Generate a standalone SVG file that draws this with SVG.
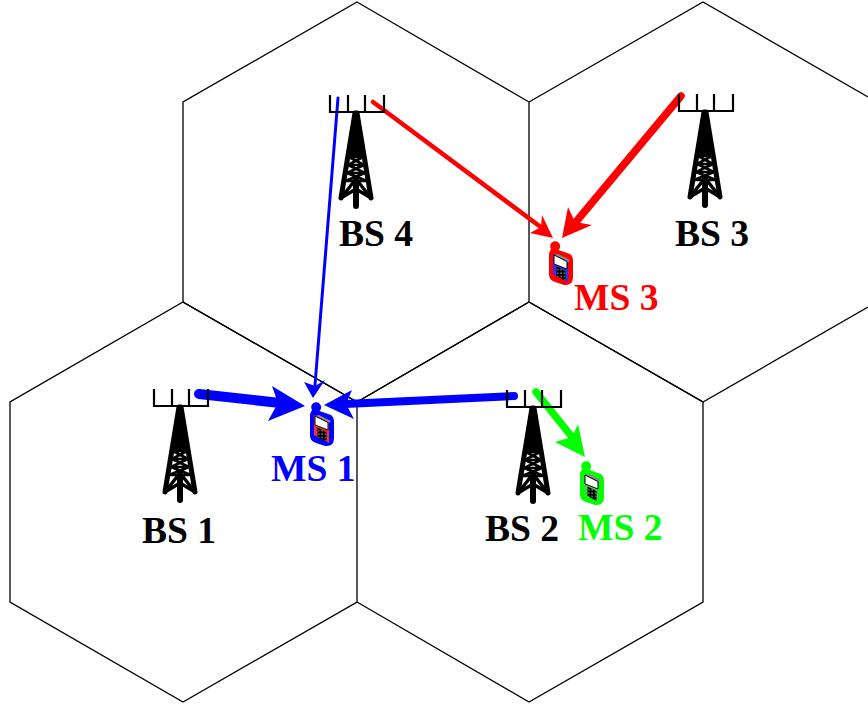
<svg xmlns="http://www.w3.org/2000/svg" width="868" height="706" viewBox="0 0 868 706">
<style>
.hex{fill:none;stroke:#000;stroke-width:1.3;stroke-linejoin:miter}
.lbl{font-family:"Liberation Serif","Times New Roman",serif;font-weight:bold;font-size:37.6px}
.shaft{fill:none;stroke-linecap:round}
.blue{stroke:#0000ff}.red{stroke:#ff0000}.green{stroke:#00ff00}
.fb{fill:#0000ff}.fr{fill:#ff0000}.fg{fill:#00ff00}
.case{stroke:none}
</style>
<defs>
<g id="tower">
<path d="M-26 -16V1H28V-16M-8 -16V1M9 -16V1" fill="none" stroke="#000" stroke-width="2.2"/>
<path d="M-2.5 0H2.5L7 46H-7Z" fill="#000"/>
<path d="M-1 2L-15 87M1 2L15 87" fill="none" stroke="#000" stroke-width="5" stroke-linecap="round"/>
<path d="M0 68V95" fill="none" stroke="#000" stroke-width="6" stroke-linecap="round"/>
<path d="M-15 87L0 68L15 87M-15 87L0 78L15 87" fill="none" stroke="#000" stroke-width="3.4"/>
<path d="M-7 46H7M-8 54H8M-9 62H9M-11 70H11M-7 46L8 54M7 46L-8 54M-8 54L9 62M8 54L-9 62M-9 62L11 70M9 62L-11 70" fill="none" stroke="#000" stroke-width="2.6"/>
</g>
<pattern id="keys" width="3.4" height="3.4" patternUnits="userSpaceOnUse"><rect width="3.4" height="3.4" fill="#000"/><rect x="1" y="1" width="1.5" height="1.5" fill="#777"/></pattern>
<path id="shell" d="M11 17L12 15A5 5 0 1 1 19.5 16L31 20Q34 22 34 27V43Q34 52 25 51L16 48Q10 46 10 41V21Q10 18 11 17Z"/>
<g id="face">
<path d="M15 21L19 20L31 26L28 29Z" fill="#888"/>
<path d="M15 21L28 27.5V35L15 30Z" fill="#fff" stroke="#000" stroke-width="1"/>
<path d="M17.5 32.5L26.5 37V47L17.5 42Z" fill="url(#keys)"/>
</g>
</defs>
<g id="cells">
<path class="hex" d="M357 2L529 102V302L357 402L183 302V102Z"/>
<path class="hex" d="M529 102L703 2L868 97M868 307L703 402L529 302"/>
<path class="hex" d="M183 302L357 402V602L183 702L10 602V402Z"/>
<path class="hex" d="M357 402L529 302L703 402V602L529 702L357 602"/>
</g>
<g id="connectors">
<path class="shaft blue" stroke-width="10" d="M199 394L280 403"/><polygon class="fb" points="305,406 272,386 278,403 268,421"/>
<path class="shaft blue" stroke-width="8" d="M514 396L345 404"/><polygon class="fb" points="324,405 352,390 346,404 354,419"/>
<path class="shaft blue" stroke-width="3" d="M338 98L315 385"/><polygon class="fb" points="313,398 304,382 315,386 325,380"/>
<path class="shaft red" stroke-width="4.5" d="M373 102L542 228"/><polygon class="fr" points="553,238 542,215 541,227 530,233"/>
<path class="shaft red" stroke-width="7.5" d="M681 96L575 223"/><polygon class="fr" points="562,238 568,207 575,222 592,225"/>
<path class="shaft green" stroke-width="7.5" d="M536 392L572 437"/><polygon class="fg" points="585,457 578,424 572,437 555,442"/>
</g>
<g id="BS1"><use href="#tower" x="180" y="405"/><text class="lbl" x="142" y="543">BS 1</text></g>
<g id="BS2"><use href="#tower" x="533" y="406"/><text class="lbl" x="485" y="541">BS 2</text></g>
<g id="BS3"><use href="#tower" x="705" y="110"/><text class="lbl" x="675" y="246">BS 3</text></g>
<g id="BS4"><use href="#tower" x="356" y="111"/><text class="lbl" x="339" y="246">BS 4</text></g>
<g id="MS1" transform="translate(300 395)">
<use href="#shell" fill="#0000ff"/>
<path d="M14 20L29 27V48L14 40Z" fill="#ee3030"/><use href="#face"/>
</g>
<text class="lbl" x="271" y="481" fill="#0000ff" id="MS1-label">MS 1</text>
<g id="MS2" transform="translate(570 454)">
<use href="#shell" fill="#00ff00"/>
<path d="M14 20L29 27V48L14 40Z" fill="#33dd33"/><use href="#face"/>
</g>
<text class="lbl" x="578" y="540" fill="#00ff00" id="MS2-label">MS 2</text>
<g id="MS3" transform="translate(539 234)">
<use href="#shell" fill="#ff0000"/>
<path d="M14 20L29 27V48L14 40Z" fill="#3030ee"/><use href="#face"/>
</g>
<text class="lbl" x="574" y="310" fill="#ff0000" id="MS3-label">MS 3</text>
</svg>
